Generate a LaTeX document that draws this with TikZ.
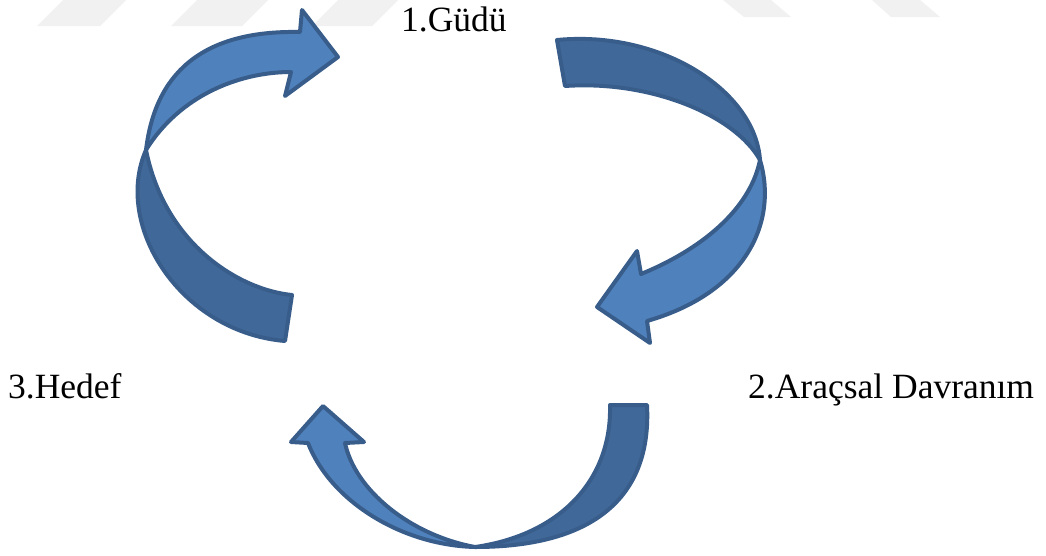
\documentclass[tikz,border=0pt]{standalone}
\usepackage{fontspec}
\setmainfont{Liberation Serif}
\definecolor{armlight}{HTML}{4F81BD}
\definecolor{armdark}{HTML}{40699A}
\definecolor{armline}{HTML}{385D8A}
\definecolor{wmark}{HTML}{F1F1F1}
\tikzset{
  lightpart/.style={fill=armlight, draw=armline, line width=4pt, line join=round},
  darkpart/.style={fill=armdark, draw=armline, line width=4pt, line join=round},
  wm/.style={fill=wmark, draw=none},
  lbl/.style={inner sep=0pt, font=\fontsize{35.5}{40}\selectfont, text=black}
}
\begin{document}
\begin{tikzpicture}[x=1pt, y=-1pt]
\useasboundingbox (0,0) rectangle (1046,555);
\fill[white] (0,0) rectangle (1046,555);
% faint watermark
\path[wm] (37,26) -- (100,26) -- (126,0) -- (63,0) -- cycle;
\path[wm] (171,26) -- (242,26) -- (268,0) -- (197,0) -- cycle;
\path[wm] (312,26) -- (372,26) -- (398,0) -- (338,0) -- cycle;
\path[wm] (723,0) -- (771,0) -- (791,17) -- (744,17) -- cycle;
\path[wm] (872,0) -- (920,0) -- (940,17) -- (891,17) -- cycle;
% left arrow (3 -> 1)
\coordinate (xa) at (146,150);
\path[darkpart] (xa) .. controls (113,225) and (180,332) .. (285,341)
  -- (292,295) .. controls (240,290) and (165,245) .. (xa) -- cycle;
\path[lightpart] (xa) .. controls (155,75) and (200,30) .. (300,32)
  -- (302,10) -- (338,57) -- (285,96) -- (291,72)
  .. controls (240,72) and (180,95) .. (xa) -- cycle;
% right arrow (1 -> 2)
\coordinate (xb) at (760,160);
\path[darkpart] (557,40) .. controls (660,30) and (755,90) .. (xb)
  .. controls (735,115) and (650,80) .. (565,86) -- cycle;
\path[lightpart] (xb) .. controls (778,220) and (748,292) .. (647,321)
  -- (650,343) -- (597,307) -- (637,251) -- (641,274)
  .. controls (700,250) and (750,210) .. (xb) -- cycle;
% bottom arrow (2 -> 3)
\coordinate (xc) at (475,547);
\path[darkpart] (647,405) .. controls (652,500) and (590,547) .. (xc)
  .. controls (560,535) and (612,480) .. (610,405) -- cycle;
\path[lightpart] (xc) .. controls (400,545) and (330,500) .. (308,443)
  -- (291,442) -- (323,406) -- (364,442) -- (345,443)
  .. controls (355,490) and (410,535) .. (xc) -- cycle;
% labels
\node[lbl, anchor=base west] (gudu) at (401,31) {1.Güdü};
\node[lbl, anchor=base west] (hedef) at (8,398) {3.Hedef};
\node[lbl, anchor=base west] (arac) at (748,398) {2.Araçsal Davranım};
\end{tikzpicture}
\end{document}
